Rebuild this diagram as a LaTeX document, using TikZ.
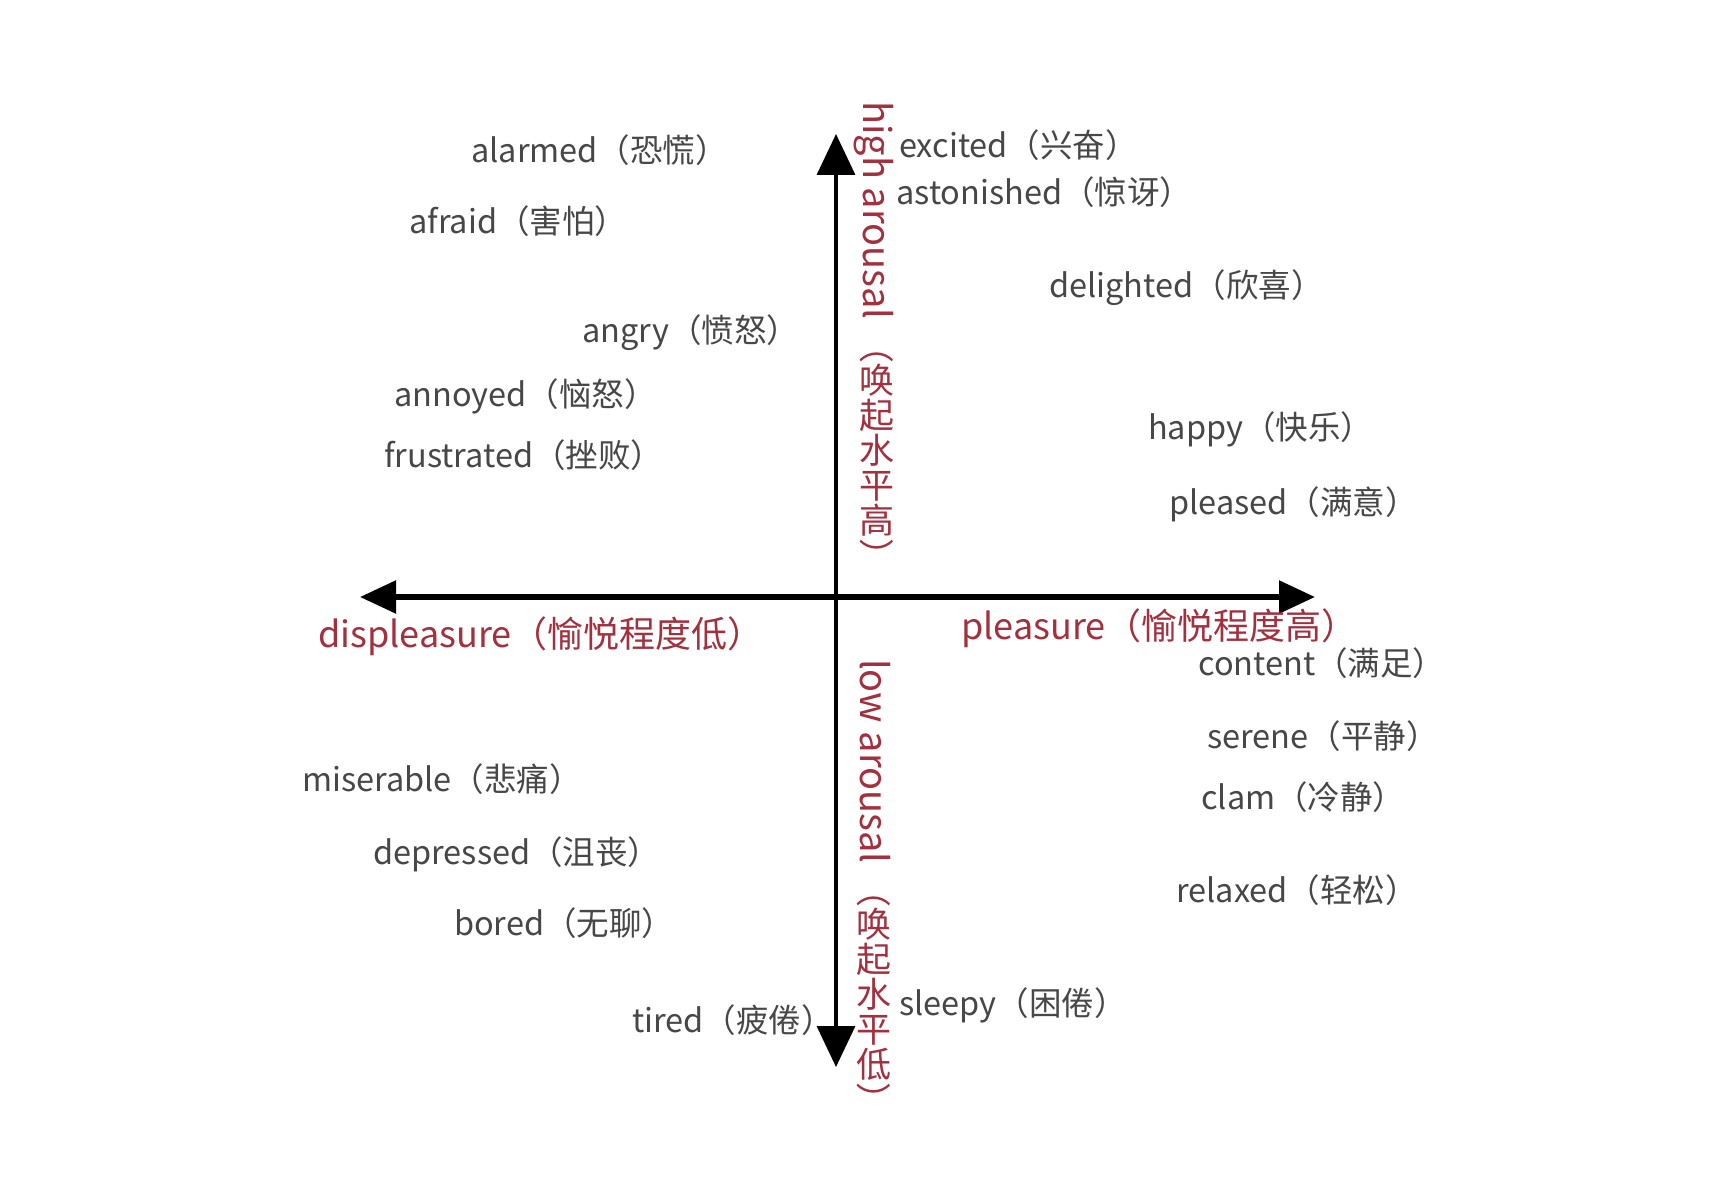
\documentclass[tikz,border=0pt]{standalone}
\usepackage{fontspec}
\setmainfont{Noto Sans CJK SC}
\usetikzlibrary{arrows.meta}
\definecolor{wordgray}{HTML}{474747}
\definecolor{axisred}{HTML}{A3303F}
\newcommand{\upc}[1]{\rotatebox[origin=c]{90}{\makebox[1em]{\rule[-0.12em]{0pt}{1em}#1}}}
\newcommand{\cjkpart}[1]{{\fontsize{35}{35}\selectfont #1}}
\tikzset{
  word/.style={anchor=west, inner sep=0pt, text=wordgray, font=\fontsize{32.5}{32.5}\selectfont},
  axislabel/.style={anchor=west, inner sep=0pt, text=axisred, font=\fontsize{36}{36}\selectfont},
  vlabel/.style={anchor=west, inner sep=0pt, text=axisred, rotate=-90, font=\fontsize{38}{38}\selectfont},
  haxis/.style={line width=5.5pt, {Triangle[length=36pt,width=32pt]}-{Triangle[length=36pt,width=32pt]}},
  vaxis/.style={line width=3.5pt, {Triangle[length=41pt,width=38pt]}-{Triangle[length=41pt,width=38pt]}}
}
\begin{document}
\begin{tikzpicture}[x=1pt,y=1pt]
\fill[white] (0,0) rectangle (1725,-1177);
\useasboundingbox (0,0) rectangle (1725,-1177);
% axes
\coordinate (left) at (360,-597);
\coordinate (right) at (1315,-597);
\coordinate (top) at (836,-134);
\coordinate (bottom) at (836,-1067);
\draw[haxis] (left) -- (right);
\draw[vaxis] (bottom) -- (top);
% axis labels
\node[axislabel] (displ) at (318,-636) {displeasure（愉悦程度低）};
\node[axislabel] (pleas) at (961,-628) {pleasure（愉悦程度高）};
\node[vlabel] (high) at (874,-101) {high arousal \cjkpart{（\upc{唤}\upc{起}\upc{水}\upc{平}\upc{高}）}};
\node[vlabel] (low) at (874,-659) {low arousal \cjkpart{（\upc{唤}\upc{起}\upc{水}\upc{平}\upc{低}）}};
% words
\node[word] (alarmed) at (471,-150) {alarmed（恐慌）};
\node[word] (afraid) at (409,-221) {afraid（害怕）};
\node[word] (angry) at (582,-333) {angry（愤怒）};
\node[word] (annoyed) at (394,-396) {annoyed（恼怒）};
\node[word] (frustrated) at (384,-455) {frustrated（挫败）};
\node[word] (excited) at (899,-145) {excited（兴奋）};
\node[word] (astonished) at (896,-192) {astonished（惊讶）};
\node[word] (delighted) at (1049,-288) {delighted（欣喜）};
\node[word] (happy) at (1148,-429) {happy（快乐）};
\node[word] (pleased) at (1169,-504) {pleased（满意）};
\node[word] (content) at (1198,-663) {content（满足）};
\node[word] (serene) at (1207,-736) {serene（平静）};
\node[word] (clam) at (1201,-797) {clam（冷静）};
\node[word] (relaxed) at (1176,-890) {relaxed（轻松）};
\node[word] (sleepy) at (899,-1005) {sleepy（困倦）};
\node[word] (tired) at (632,-1020) {tired（疲倦）};
\node[word] (bored) at (454,-923) {bored（无聊）};
\node[word] (depressed) at (373,-854) {depressed（沮丧）};
\node[word] (miserable) at (302,-779) {miserable（悲痛）};
\end{tikzpicture}
\end{document}
